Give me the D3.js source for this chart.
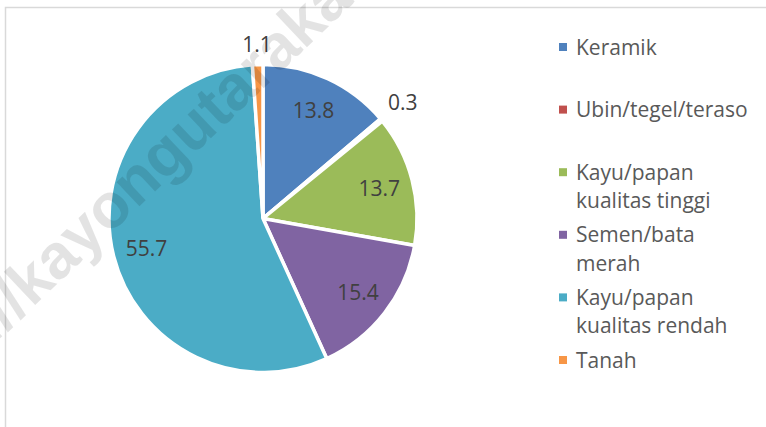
<!DOCTYPE html>
<html>
<head>
<meta charset="utf-8">
<script src="https://cdn.jsdelivr.net/npm/d3@7"></script>
<style>
  body { margin: 0; background: #fff; }
  svg { display: block; font-family: "Open Sans", sans-serif; }
</style>
</head>
<body>
<div id="chart"></div>
<script>
// jenis lantai terluas (persen)
var categories = ["Keramik", "Ubin/tegel/teraso", "Kayu/papan kualitas tinggi",
                  "Semen/bata merah", "Kayu/papan kualitas rendah", "Tanah"];
var values = [13.8, 0.3, 13.7, 15.4, 55.7, 1.1];
var colors = ["#4f81bd", "#c0504d", "#9bbb59", "#8064a2", "#4bacc6", "#f79646"];

var W = 766, H = 427;
var cx = 263, cy = 218.5, R = 154;

var svg = d3.select("#chart").append("svg")
    .attr("width", W)
    .attr("height", H);

// chart area border (runs off the right / bottom edge)
svg.append("rect")
    .attr("x", 5.5).attr("y", 7.5)
    .attr("width", 820).attr("height", 520)
    .attr("fill", "#fff")
    .attr("stroke", "#d9d9d9")
    .attr("stroke-width", 1.5);

var data = categories.map(function(c, i){
    return { name: c, value: values[i], color: colors[i] };
});

var pie = d3.pie()
    .sort(null)
    .value(function(d){ return d.value; });

var arcs = pie(data);

var arc = d3.arc().innerRadius(0).outerRadius(R);

var g = svg.append("g")
    .attr("transform", "translate(" + cx + "," + cy + ")");

g.selectAll("path.slice")
    .data(arcs)
    .enter()
    .append("path")
    .classed("slice", true)
    .attr("d", arc)
    .attr("fill", function(d){ return d.data.color; })
    .attr("stroke", "#fff")
    .attr("stroke-width", 3.5)
    .attr("stroke-linejoin", "miter");

// watermark
var wm = svg.append("g")
    .attr("transform", "translate(32,308) rotate(-43.5)")
    .attr("fill", "#000")
    .attr("fill-opacity", 0.11)
    .style("font-family", "'Liberation Sans', Arial, sans-serif")
    .style("font-weight", "bold")
    .style("font-size", "63px");
wm.append("text").attr("text-anchor", "end").text("http://");
wm.append("text").attr("text-anchor", "start").text("kayongutarakab.go.id");

// data labels: big slices inside, tiny ones just outside the rim
var labels = g.selectAll("text.val")
    .data(arcs)
    .enter()
    .append("text")
    .classed("val", true)
    .attr("fill", "#404040")
    .style("font-size", "21px")
    .attr("text-anchor", "middle")
    .attr("dominant-baseline", "central")
    .text(function(d){ return d3.format(".1f")(d.data.value); });

labels.each(function(d){
    var a = (d.startAngle + d.endAngle) / 2;
    var sx = Math.sin(a), sy = -Math.cos(a);
    var rr;
    if (d.data.value >= 5) {
        rr = R * 0.78;
    } else {
        var bb = this.getBBox();
        var ext = Math.abs(sx) * bb.width / 2 + Math.abs(sy) * bb.height / 2 * 0.72;
        rr = R + 10 + ext;
    }
    d3.select(this)
        .attr("x", sx * rr)
        .attr("y", sy * rr);
});

// legend
var legX = 559, legY0 = 47, legStep = 62.6, lineH = 28.5, wrapW = 180;

var leg = svg.append("g").classed("legend", true);

var item = leg.selectAll("g.item")
    .data(data)
    .enter()
    .append("g")
    .classed("item", true)
    .attr("transform", function(d, i){
        return "translate(" + legX + "," + (legY0 + i * legStep) + ")";
    });

item.append("rect")
    .attr("x", 0).attr("y", -4)
    .attr("width", 8).attr("height", 8)
    .attr("fill", function(d){ return d.color; });

item.append("text")
    .attr("x", 17)
    .attr("y", 7.5)
    .attr("fill", "#595959")
    .style("font-size", "21px")
    .each(function(d){
        var t = d3.select(this);
        var words = d.name.split(" ");
        var line = [];
        var ts = t.append("tspan").attr("x", 17).attr("dy", 0);
        words.forEach(function(w){
            line.push(w);
            ts.text(line.join(" "));
            if (ts.node().getComputedTextLength() > wrapW && line.length > 1) {
                line.pop();
                ts.text(line.join(" "));
                line = [w];
                ts = t.append("tspan").attr("x", 17).attr("dy", lineH).text(w);
            }
        });
    });
</script>
</body>
</html>
